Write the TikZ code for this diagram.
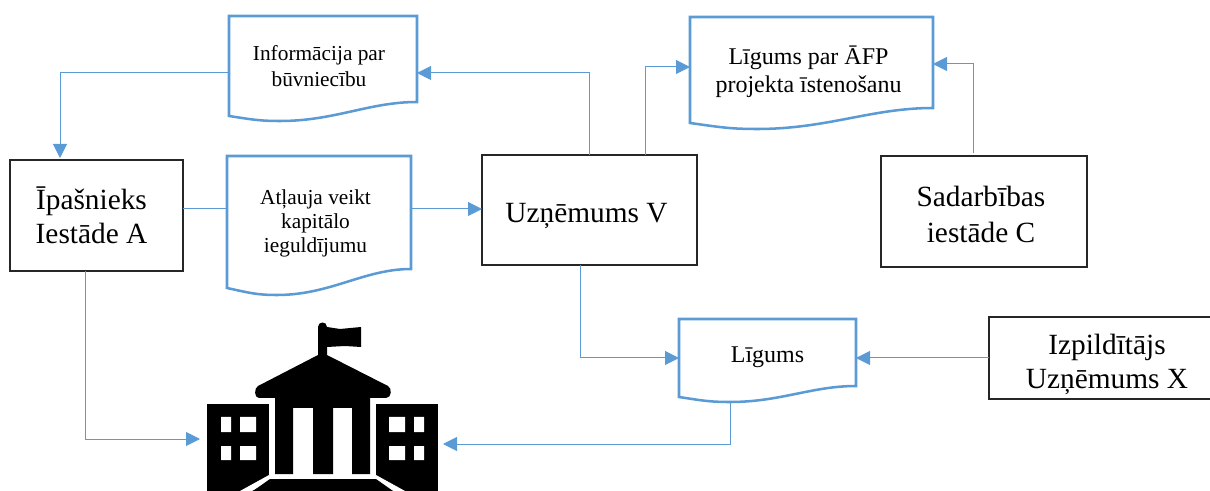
\documentclass[tikz,border=0pt]{standalone}
\usepackage{fontspec}
\setmainfont{Liberation Serif}
\usetikzlibrary{arrows.meta}
\definecolor{lineblue}{HTML}{5B9BD5}
\newlength\pxu
\setlength\pxu{0.75pt}
% text inside a node, moved dx,dy (px) from the node centre without changing the node's size
\newcommand\tx[5]{\raisebox{#2\pxu}[0pt][0pt]{\makebox[0pt][c]{\hspace*{2\dimexpr#1\pxu\relax}\fontsize{#3}{#4}\selectfont\begin{tabular}{@{}c@{}}#5\end{tabular}}}}
% document outline: left, top, right, right-bottom, left-bottom, wave x, wave y
\newcommand\docoutline[7]{\draw[docline] (#1,#2) -- (#3,#2) -- (#3,#4)
  .. controls ({#3-(#3-#6)*0.35},#4) and ({#6+(#3-#6)*0.4},#7) .. (#6,#7)
  .. controls ({#6-(#6-#1)*0.4},#7) and ({#1+(#6-#1)*0.45},{#5+(#7-#5)*0.7}) .. (#1,#5) -- cycle;}
\tikzset{
  conn/.style={draw=lineblue,line width=0.75pt},
  arr/.style={conn,-{Triangle[length=10.5pt,width=10.5pt]}},
  docline/.style={draw=lineblue,line width=1.9pt,line join=miter},
  blackbox/.style={draw=black!85,line width=1pt,inner sep=0pt,outer sep=0pt},
  docnode/.style={inner sep=0pt,outer sep=0pt},
}
\begin{document}
\begin{tikzpicture}[x=0.75pt,y=-0.75pt]
\useasboundingbox (0,0) rectangle (1210,491);
% boxes
\node[blackbox,minimum width=173*\pxu,minimum height=111*\pxu] (owner) at (96.5,215.5) {\tx{-5}{-11}{22}{25.5}{Īpašnieks\\Iestāde A}};
\node[blackbox,minimum width=215*\pxu,minimum height=110*\pxu] (uz) at (589.5,210) {\tx{-3}{-13}{22}{25.5}{Uzņēmums V}};
\node[blackbox,minimum width=206*\pxu,minimum height=111*\pxu] (sad) at (984,211.5) {\tx{-3}{-12.5}{22}{27}{Sadarbības\\iestāde C}};
\node[blackbox,minimum width=226*\pxu,minimum height=82*\pxu] (izp) at (1102,358) {\tx{5}{-14}{22}{25.5}{Izpildītājs\\Uzņēmums X}};
% documents
\docoutline{229}{16}{417}{102}{116}{280}{121}
\docoutline{227}{156}{411}{269}{288}{277}{295}
\docoutline{690}{17}{933}{108}{123}{757}{129}
\docoutline{679}{319}{856}{386}{397}{730}{402}
\node[docnode,minimum width=188*\pxu,minimum height=105*\pxu] (info) at (323,68.5) {\tx{-4}{-6}{16}{19.5}{Informācija par\\būvniecību}};
\node[docnode,minimum width=184*\pxu,minimum height=139*\pxu] (atl) at (319,225.5) {\tx{-3.5}{-3.5}{16}{18}{Atļauja veikt\\kapitālo\\ieguldījumu}};
\node[docnode,minimum width=243*\pxu,minimum height=112*\pxu] (afp) at (811.5,73) {\tx{-3}{-6}{18}{21}{Līgums par ĀFP\\projekta īstenošanu}};
\node[docnode,minimum width=177*\pxu,minimum height=83*\pxu] (lig) at (767.5,360.5) {\tx{0}{-2}{18}{21}{Līgums}};
% building icon
\coordinate (bldL) at (200,439);
\coordinate (bldR) at (443,444);
\fill[black] (207,404) rectangle (269,491);
\fill[black] (376,404) rectangle (438,491);
\fill[white] (269,475) -- (274,479) -- (252,491) -- (240,491) -- cycle;
\fill[white] (376,475) -- (371,479) -- (393,491) -- (405,491) -- cycle;
\fill[black] (318,355) -- (318,327) .. controls (318,321) and (327,321) .. (327,327) -- (340,329) -- (361,327) -- (361,347) -- (345,346) -- (327,347) -- (327,355) -- (388,386)
  .. controls (392,388) and (392,398) .. (386,398) -- (370,398) -- (370,474) -- (352,474) -- (352,408) -- (333,408) -- (333,474) -- (313,474) -- (313,408) -- (293,408) -- (293,474) -- (275,474) -- (275,398) -- (259,398)
  .. controls (254,398) and (254,388) .. (258,386) -- cycle;
\fill[black] (270,479) -- (376,479) -- (393,491) -- (253,491) -- cycle;
\fill[white] (221,417) rectangle (231,432) (240,417) rectangle (256,432) (221,446) rectangle (231,460) (240,446) rectangle (256,460);
\fill[white] (389,417) rectangle (405,432) (414,417) rectangle (424,432) (389,446) rectangle (405,460) (414,446) rectangle (424,460);
% connectors
\draw[arr] ([yshift=-4.5*\pxu]info.west) -| ([xshift=-36.5*\pxu,yshift=2*\pxu]owner.north);
\draw[conn] ([yshift=6.5*\pxu]owner.east) -- ([yshift=16.5*\pxu]atl.west);
\draw[arr] ([yshift=16.5*\pxu]atl.east) -- ([yshift=1*\pxu]uz.west);
\draw[arr] (uz.north) |- ([yshift=-4.5*\pxu]info.east);
\draw[arr] ([xshift=55.5*\pxu]uz.north) |- ([yshift=6*\pxu]afp.west);
\draw[arr] ([xshift=-11*\pxu,yshift=3*\pxu]sad.north) |- ([yshift=9*\pxu]afp.east);
\draw[arr] ([xshift=-9.5*\pxu]uz.south) |- ([yshift=2.5*\pxu]lig.west);
\draw[arr] (izp.west) -- ([yshift=2.5*\pxu]lig.east);
\draw[arr] ([xshift=-37.5*\pxu]lig.south) |- (bldR);
\draw[arr] ([xshift=-11.5*\pxu]owner.south) |- (bldL);
\end{tikzpicture}
\end{document}
